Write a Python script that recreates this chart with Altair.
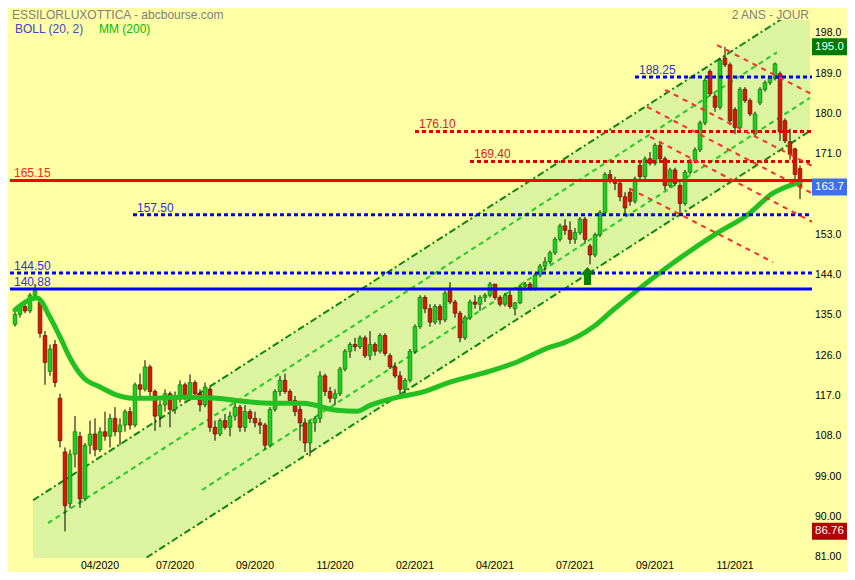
import altair as alt
import pandas as pd

# ---------------- candles (one bar every ~3 sessions) ----------------
O = [133.0, 135.2, 137.0, 136.0, 139.5, 138.0, 130.5, 122.5, 128.5, 116.5,
     104.5, 93.0, 104.0, 108.0, 94.0, 106.0, 108.5, 105.0, 109.0, 108.0,
     112.0, 109.0, 110.5, 113.5, 110.5, 119.5, 118.5, 123.5, 118.0, 112.5,
     115.0, 117.5, 114.0, 116.5, 119.5, 117.0, 120.0, 117.5, 115.0, 118.5,
     110.0, 108.5, 111.5, 110.0, 112.5, 114.5, 110.0, 113.5, 112.0, 111.0,
     110.5, 106.0, 114.0, 118.0, 120.5, 118.0, 116.0, 114.0, 111.0, 106.5,
     111.0, 112.0, 121.5, 118.0, 116.5, 117.5, 123.0, 127.0, 128.5, 128.0,
     130.0, 126.0, 128.5, 127.0, 130.5, 126.0, 123.5, 121.5, 118.5, 120.5,
     127.0, 132.5, 139.0, 136.5, 133.5, 137.0, 134.0, 140.5, 138.0, 135.5,
     130.0, 134.5, 138.0, 137.5, 139.0, 139.5, 142.0, 139.0, 137.5, 139.5,
     136.5, 137.8, 141.5, 142.0, 141.0, 144.0, 146.0, 147.0, 149.0, 152.0,
     155.0, 154.0, 152.0, 153.5, 156.5, 150.5, 148.5, 153.0, 158.0, 166.5,
     165.0, 164.5, 161.5, 162.5, 160.5, 168.5, 166.0, 170.0, 169.0, 173.0,
     170.0, 164.0, 167.5, 164.0, 160.0, 167.0, 169.5, 172.0, 178.0, 189.5,
     184.0, 181.5, 192.5, 191.0, 181.0, 177.0, 185.5, 183.0, 175.5, 182.5,
     185.5, 187.0, 187.9, 189.0, 178.5, 173.8, 172.2, 167.8]
H = [135.8, 137.5, 137.8, 140.0, 142.0, 139.0, 131.5, 128.5, 129.5, 117.5,
     105.5, 105.0, 112.5, 109.0, 106.5, 111.5, 112.0, 110.0, 113.5, 113.0,
     114.5, 112.0, 114.0, 114.5, 120.0, 122.0, 125.0, 124.0, 118.5, 116.0,
     118.5, 118.0, 118.0, 120.5, 120.0, 121.8, 120.5, 118.5, 120.0, 119.0,
     111.5, 112.0, 113.0, 113.5, 116.0, 115.0, 115.0, 114.0, 113.5, 112.0,
     111.0, 114.5, 118.5, 121.5, 122.0, 118.5, 117.0, 115.0, 112.0, 111.5,
     112.5, 122.5, 122.0, 119.0, 118.5, 123.5, 127.5, 129.0, 130.0, 130.5,
     130.5, 131.5, 129.0, 131.0, 131.0, 126.5, 124.5, 122.5, 121.0, 127.5,
     133.0, 139.5, 139.5, 137.5, 137.5, 137.5, 140.5, 142.4, 138.5, 136.0,
     135.0, 138.5, 139.5, 139.5, 140.0, 142.5, 142.0, 139.5, 140.0, 141.0,
     138.0, 141.8, 142.5, 142.5, 144.5, 146.5, 148.0, 149.5, 152.5, 155.5,
     156.5, 156.0, 154.5, 157.0, 157.0, 151.0, 153.5, 158.5, 167.0, 167.5,
     166.0, 165.0, 162.5, 163.5, 166.0, 169.5, 170.5, 171.5, 173.5, 173.5,
     170.5, 168.0, 168.0, 164.5, 167.5, 170.0, 172.5, 178.5, 188.0, 190.0,
     184.5, 192.5, 195.0, 191.5, 181.5, 186.0, 186.0, 183.5, 180.5, 186.0,
     187.5, 188.5, 191.5, 189.5, 179.0, 176.7, 172.5, 168.5]
L = [132.5, 134.5, 135.5, 135.5, 138.5, 130.0, 119.5, 121.5, 119.0, 105.5,
     86.76, 92.0, 101.0, 92.0, 93.5, 104.0, 103.5, 104.5, 107.0, 105.5,
     108.0, 106.0, 109.0, 109.5, 110.0, 117.0, 118.0, 117.0, 109.2, 110.0,
     113.5, 110.0, 113.0, 115.5, 116.0, 116.0, 116.5, 113.5, 114.5, 109.0,
     107.0, 108.0, 109.5, 108.0, 111.5, 109.0, 109.0, 111.0, 110.0, 108.5,
     105.0, 105.5, 113.5, 117.0, 117.5, 115.0, 112.5, 107.0, 104.5, 103.5,
     109.0, 111.0, 117.0, 115.5, 115.0, 117.0, 122.5, 125.5, 127.0, 127.5,
     125.5, 125.0, 126.0, 126.5, 126.0, 123.0, 121.0, 117.5, 117.0, 120.0,
     126.5, 132.0, 135.5, 132.5, 133.0, 133.0, 133.5, 137.5, 134.5, 129.0,
     129.5, 134.0, 136.5, 136.0, 138.0, 139.0, 138.5, 137.0, 137.0, 136.5,
     135.0, 137.5, 140.5, 140.5, 140.5, 143.5, 145.0, 146.5, 148.5, 151.5,
     153.0, 151.0, 151.0, 153.0, 151.0, 146.4, 148.0, 152.5, 157.5, 164.5,
     163.0, 160.5, 157.4, 159.5, 160.0, 165.0, 165.5, 168.5, 168.5, 169.5,
     163.0, 163.5, 164.0, 157.4, 159.5, 166.5, 169.0, 171.5, 177.5, 184.0,
     180.5, 181.0, 190.5, 177.5, 175.5, 176.5, 182.5, 179.5, 175.0, 182.0,
     185.0, 186.5, 187.5, 174.0, 173.5, 169.8, 165.5, 161.0]
C = [135.2, 137.0, 136.0, 139.5, 140.5, 131.0, 124.5, 127.5, 120.0, 107.0,
     92.5, 104.0, 109.0, 94.0, 106.0, 108.5, 105.0, 109.0, 108.0, 112.0,
     109.0, 110.5, 113.5, 110.5, 119.5, 118.5, 123.5, 118.0, 112.5, 115.0,
     117.5, 114.0, 116.5, 119.5, 117.0, 120.0, 117.5, 115.0, 119.0, 110.0,
     108.5, 111.5, 110.0, 112.5, 114.5, 110.0, 113.5, 112.0, 111.0, 110.5,
     106.0, 114.0, 118.0, 120.5, 118.0, 116.0, 113.5, 111.0, 106.5, 111.0,
     112.0, 121.5, 118.0, 116.5, 117.5, 123.0, 127.0, 128.5, 128.0, 130.0,
     126.0, 128.5, 127.0, 130.5, 126.5, 123.5, 121.5, 118.5, 120.5, 127.0,
     132.5, 139.0, 136.5, 133.5, 137.0, 134.0, 140.0, 138.0, 135.5, 130.0,
     134.5, 138.0, 137.5, 139.0, 139.5, 142.0, 139.0, 137.5, 139.5, 137.0,
     137.8, 141.5, 142.0, 141.0, 144.0, 146.0, 147.0, 149.0, 152.0, 155.0,
     154.0, 152.0, 153.5, 156.5, 152.0, 148.5, 153.0, 158.0, 166.5, 165.0,
     164.5, 161.5, 159.0, 160.5, 165.5, 166.0, 170.0, 169.0, 173.0, 170.0,
     164.0, 167.5, 164.5, 160.0, 167.0, 169.5, 172.0, 178.0, 187.5, 184.5,
     181.5, 192.0, 191.0, 178.5, 177.0, 185.5, 183.0, 180.0, 180.0, 185.5,
     187.0, 188.0, 191.2, 176.0, 174.0, 171.0, 166.5, 163.7]

# x axis labels (bar index -> month)
xtick_idx = [17, 32, 48, 64, 80, 96, 112, 128, 144]
xtick_lab = ["04/2020", "07/2020", "09/2020", "11/2020", "02/2021",
             "04/2021", "07/2021", "09/2021", "11/2021"]
# right price scale (162.0 sits behind the last-price tag)
ytick_vals = [81, 90, 99, 108, 117, 126, 135, 144, 153, 171, 180, 189, 198]

# MM(200)
mm_i = [0, 4.4, 7, 9, 11, 13.6, 17, 20.4, 23.6, 27, 33.6, 40.4, 45, 51, 57.6,
        64.4, 68.4, 71, 76.4, 81.6, 87, 93.6, 100.4, 107, 109.6, 115.6, 119.6,
        125, 131.6, 140.4, 146.4, 151.6, 157]
mm_v = [136.2, 138.9, 134.6, 130.2, 125.5, 121.2, 119.0, 117.2, 116.5, 116.5,
        116.7, 116.5, 115.9, 115.4, 115.4, 113.8, 113.6, 114.9, 116.7, 117.9,
        120.1, 122.1, 124.6, 127.9, 128.8, 132.4, 136.2, 141.1, 146.7, 153.4,
        157.4, 162.3, 164.8]

# regression channel (upper / lower bounds of shaded band)
chan_i = [3.6, 159.0]
chan_up = [93.7, 205.3]
chan_lo = [64.6, 176.2]
# inner dashed lines (start i, start v, end i, end v)
inner_i1 = [6.6, 37.4]
inner_v1 = [88.6, 96.0]
inner_i2 = [152.4, 159.0]
inner_v2 = [193.8, 183.6]

# descending red dashed lines
red_i1 = [140.4, 130.0, 126.4, 127.0, 123.0]
red_v1 = [195.4, 185.4, 181.6, 174.9, 163.3]
red_i2 = [159.4, 159.4, 159.4, 159.4, 151.6]
red_v2 = [184.4, 168.4, 162.3, 155.9, 146.9]

# horizontal levels
level_vals = [165.15, 157.50, 144.50, 140.88, 188.25, 176.10, 169.40]
level_text = ["165.15", "157.50", "144.50", "140.88", "188.25", "176.10", "169.40"]
level_start = [-1, 23.6, -1, -1, 124, 80, 91]
level_line = ["#FF0000", "#0000FF", "#0000FF", "#0000FF", "#0000FF", "#E00000", "#E00000"]
level_lab = ["#FF2222", "#3030D8", "#3030D8", "#3030D8", "#3030D8", "#E02020", "#E02020"]
level_dot = [False, True, True, False, True, True, True]

# signal arrow
arrow_i = [114.5]
arrow_v = [143.8]

FONT = "Liberation Sans"
XMAX = 159.4
XS = alt.Scale(domain=[-1, XMAX], nice=False, zero=False)
YS = alt.Scale(domain=[80.8, 201.0], nice=False, zero=False)


def X(f):
    return alt.X(f, type="quantitative", scale=XS, axis=None)


def Y(f):
    return alt.Y(f, type="quantitative", scale=YS, axis=None)


# ---------------- frames ----------------
cd = pd.DataFrame({"i": list(range(len(C))), "O": O, "H": H, "L": L, "C": C})
cd["x0"] = cd["i"] - 0.37
cd["x1"] = cd["i"] + 0.37
cd["fill"] = ["#1CCF1C" if c >= o else "#D21A00" for o, c in zip(O, C)]
cd["edge"] = ["#0A7A0A" if c >= o else "#700A00" for o, c in zip(O, C)]

chan = pd.DataFrame({"i": chan_i, "up": chan_up, "lo": chan_lo})
outer = pd.DataFrame({"a": [chan_i[0], chan_i[0]], "b": [chan_up[0], chan_lo[0]],
                      "c": [chan_i[1], chan_i[1]], "d": [chan_up[1], chan_lo[1]]})
inner = pd.DataFrame({"a": inner_i1, "b": inner_v1, "c": inner_i2, "d": inner_v2})
red = pd.DataFrame({"a": red_i1, "b": red_v1, "c": red_i2, "d": red_v2})

lv = pd.DataFrame({"v": level_vals, "t": level_text, "s": level_start,
                   "lc": level_line, "tc": level_lab, "dot": level_dot})
lv["e"] = XMAX
lv["tx"] = lv["s"] + 0.8
mm = pd.DataFrame({"i": mm_i, "v": mm_v})
xt = pd.DataFrame({"i": xtick_idx, "t": xtick_lab})
yt = pd.DataFrame({"v": ytick_vals})
tags = pd.DataFrame({"v": [max(H), C[-1], min(L)],
                     "bg": ["#007A00", "#3D6DF0", "#B30000"]})
tags["top"] = tags["v"] + 1.9
tags["bot"] = tags["v"] - 1.9
arrow = pd.DataFrame({"i": arrow_i, "v": arrow_v})

# ---------------- layers ----------------
shade = alt.Chart(chan).mark_area(clip=True, color="#DCF3A0", opacity=1).encode(
    x=X("i"), y=Y("up"), y2=alt.Y2("lo"))

outer_l = alt.Chart(outer).mark_rule(clip=True, color="#0B870B", strokeWidth=2,
                                     strokeDash=[7, 3, 2, 3]).encode(
    x=X("a"), y=Y("b"), x2=alt.X2("c"), y2=alt.Y2("d"))
inner_l = alt.Chart(inner).mark_rule(clip=True, color="#22CC22", strokeWidth=2,
                                     strokeDash=[5, 4]).encode(
    x=X("a"), y=Y("b"), x2=alt.X2("c"), y2=alt.Y2("d"))

wick = alt.Chart(cd).mark_rule(color="#000000", strokeWidth=1).encode(
    x=X("i"), y=Y("L"), y2=alt.Y2("H"))
body = alt.Chart(cd).mark_rect(strokeWidth=0.7).encode(
    x=X("x0"), x2=alt.X2("x1"), y=Y("O"), y2=alt.Y2("C"),
    fill=alt.Fill("fill:N", scale=None), stroke=alt.Stroke("edge:N", scale=None))

mm_l = alt.Chart(mm).mark_line(color="#22C022", strokeWidth=5, interpolate="monotone",
                               strokeCap="round").encode(x=X("i"), y=Y("v"))

lv_solid = alt.Chart(lv[~lv["dot"]]).mark_rule(strokeWidth=3).encode(
    x=X("s"), x2=alt.X2("e"), y=Y("v"), color=alt.Color("lc:N", scale=None))
lv_dot = alt.Chart(lv[lv["dot"]]).mark_rule(strokeWidth=3, strokeDash=[4, 3]).encode(
    x=X("s"), x2=alt.X2("e"), y=Y("v"), color=alt.Color("lc:N", scale=None))
lv_text = alt.Chart(lv).mark_text(align="left", baseline="middle", dy=-7,
                                  font=FONT, fontSize=12).encode(
    x=X("tx"), y=Y("v"), text="t:N", color=alt.Color("tc:N", scale=None))

red_l = alt.Chart(red).mark_rule(clip=True, color="#FF2A2A", strokeWidth=2,
                                 strokeDash=[5, 5]).encode(
    x=X("a"), y=Y("b"), x2=alt.X2("c"), y2=alt.Y2("d"))

arrow_m = alt.Chart(arrow).mark_point(
    shape="M0,-1 L0.8,-0.15 L0.4,-0.15 L0.4,1 L-0.4,1 L-0.4,-0.15 L-0.8,-0.15 Z",
    size=324, filled=True, color="#0A800A", opacity=1).encode(x=X("i"), y=Y("v"))

xlab = alt.Chart(xt).mark_text(font=FONT, fontSize=10.5, color="#000000",
                               baseline="middle", align="center").encode(
    x=X("i"), y=alt.value(546), text="t:N")
ylab = alt.Chart(yt).mark_text(font=FONT, fontSize=10.5, color="#000000",
                               align="left", baseline="middle").encode(
    x=alt.value(805), y=Y("v"), text=alt.Text("v:Q", format=".4g"))

tag_box = alt.Chart(tags).mark_rect().encode(
    x=alt.value(802), x2=alt.value(845), y=Y("top"), y2=alt.Y2("bot"),
    fill=alt.Fill("bg:N", scale=None))
tag_txt = alt.Chart(tags).mark_text(font=FONT, fontSize=11.5, color="#FFFFFF",
                                    align="left", baseline="middle").encode(
    x=alt.value(805), y=Y("v"), text=alt.Text("v:Q", format=".4g"))

t1 = alt.Chart(pd.DataFrame({"t": ["ESSILORLUXOTTICA - abcbourse.com"]})).mark_text(
    font=FONT, fontSize=12, color="#808080", align="left", baseline="middle").encode(
    x=alt.value(2), y=alt.value(-5), text="t:N")
t2 = alt.Chart(pd.DataFrame({"t": ["2 ANS - JOUR"]})).mark_text(
    font=FONT, fontSize=12, color="#808080", align="right", baseline="middle").encode(
    x=alt.value(799), y=alt.value(-5), text="t:N")
t3 = alt.Chart(pd.DataFrame({"t": ["BOLL (20, 2)"]})).mark_text(
    font=FONT, fontSize=12, color="#4545C8", align="left", baseline="middle").encode(
    x=alt.value(5), y=alt.value(9), text="t:N")
t4 = alt.Chart(pd.DataFrame({"t": ["MM (200)"]})).mark_text(
    font=FONT, fontSize=12, color="#00BB00", align="left", baseline="middle").encode(
    x=alt.value(89), y=alt.value(9), text="t:N")

chart = alt.layer(
    shade, outer_l, inner_l, wick, body, mm_l, lv_solid, lv_dot, red_l,
    lv_text, arrow_m, xlab, ylab, tag_box, tag_txt, t1, t2, t3, t4
).properties(
    width=802, height=538,
    autosize=alt.AutoSizeParams(type="none"),
    padding={"left": 2, "top": 12, "right": 35, "bottom": 14},
    background="#FFFFA6",
).configure_view(strokeWidth=0)

chart.save("out.html", embed_options={"renderer": "svg", "actions": False})
